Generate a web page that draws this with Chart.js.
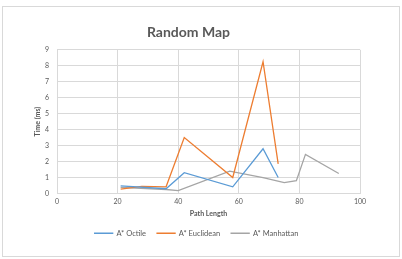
<!DOCTYPE html>
<html>
<head>
<meta charset="utf-8">
<script src="https://cdn.jsdelivr.net/npm/chart.js@4.4.1/dist/chart.umd.min.js"></script>
<style>
html,body{margin:0;padding:0;background:#fff;}
#wrap{width:402px;height:259px;}
</style>
</head>
<body>
<div id="wrap"><canvas id="c" width="402" height="259"></canvas></div>
<script>
// values
const octileLen=[21,36,42,58,68,73];
const octileTime=[0.48,0.3,1.3,0.42,2.8,1.0];
const euclidLen=[21,28,36,42,58,68,73];
const euclidTime=[0.28,0.45,0.42,3.5,1.0,8.25,1.86];
const manhLen=[21,36,40,57,68,75,79,82,93];
const manhTime=[0.38,0.25,0.18,1.4,1.0,0.68,0.8,2.45,1.25];
const xTicks=[0,20,40,60,80,100];
const yTicks=[0,1,2,3,4,5,6,7,8,9];

const grey='#595959';
const fontFam="Lato, 'Open Sans', sans-serif";

function pts(xs,ys){return xs.map((x,i)=>({x:x,y:ys[i]}));}

const frame={
  id:'frame',
  beforeDraw(chart){
    const c=chart.ctx;
    c.save();
    c.fillStyle='#fff';
    c.fillRect(0,0,chart.width,chart.height);
    c.strokeStyle='#d9d9d9';
    c.lineWidth=1;
    c.strokeRect(2.5,6.5,397,250);
    c.restore();
  },
  afterLayout(chart){
    // title sits a bit left of the legend in the original
    chart.titleBlock.left-=8;
    chart.titleBlock.right-=8;
  }
};

new Chart(document.getElementById('c'),{
  type:'scatter',
  data:{datasets:[
    {label:'A* Octile',data:pts(octileLen,octileTime),borderColor:'#5b9bd5',backgroundColor:'#5b9bd5'},
    {label:'A* Euclidean',data:pts(euclidLen,euclidTime),borderColor:'#ed7d31',backgroundColor:'#ed7d31'},
    {label:'A* Manhattan',data:pts(manhLen,manhTime),borderColor:'#a5a5a5',backgroundColor:'#a5a5a5'}
  ]},
  options:{
    responsive:false,
    animation:false,
    showLine:true,
    elements:{point:{radius:0,hoverRadius:0},line:{borderWidth:1.3,tension:0}},
    layout:{padding:{top:20,left:33,right:42,bottom:12}},
    plugins:{
      title:{display:true,text:'Random Map',color:grey,font:{family:fontFam,size:14,weight:'bold'},padding:{top:4,bottom:9}},
      legend:{position:'bottom',labels:{color:grey,font:{family:fontFam,size:7.5},boxWidth:18,boxHeight:0.01,padding:11}},
      tooltip:{enabled:false}
    },
    scales:{
      x:{type:'linear',min:0,max:100,
        afterBuildTicks(s){s.ticks=xTicks.map(v=>({value:v}));},
        afterFit(s){s.height=25;},
        grid:{color:'#d9d9d9',drawTicks:false},
        border:{color:'#d9d9d9'},
        ticks:{color:grey,font:{family:fontFam,size:7},padding:4.5},
        title:{display:true,text:'Path Length',color:grey,font:{family:fontFam,size:7,weight:'bold'},padding:{top:0,bottom:1}}
      },
      y:{type:'linear',min:0,max:9,
        afterBuildTicks(s){s.ticks=yTicks.map(v=>({value:v}));},
        afterFit(s){s.width=24;},
        grid:{color:'#d9d9d9',drawTicks:false},
        border:{color:'#d9d9d9'},
        ticks:{color:grey,font:{family:fontFam,size:7},padding:8},
        title:{display:true,text:'Time (ms)',color:grey,font:{family:fontFam,size:7,weight:'bold'},padding:{top:1,bottom:0}}
      }
    }
  },
  plugins:[frame]
});
</script>
</body>
</html>
